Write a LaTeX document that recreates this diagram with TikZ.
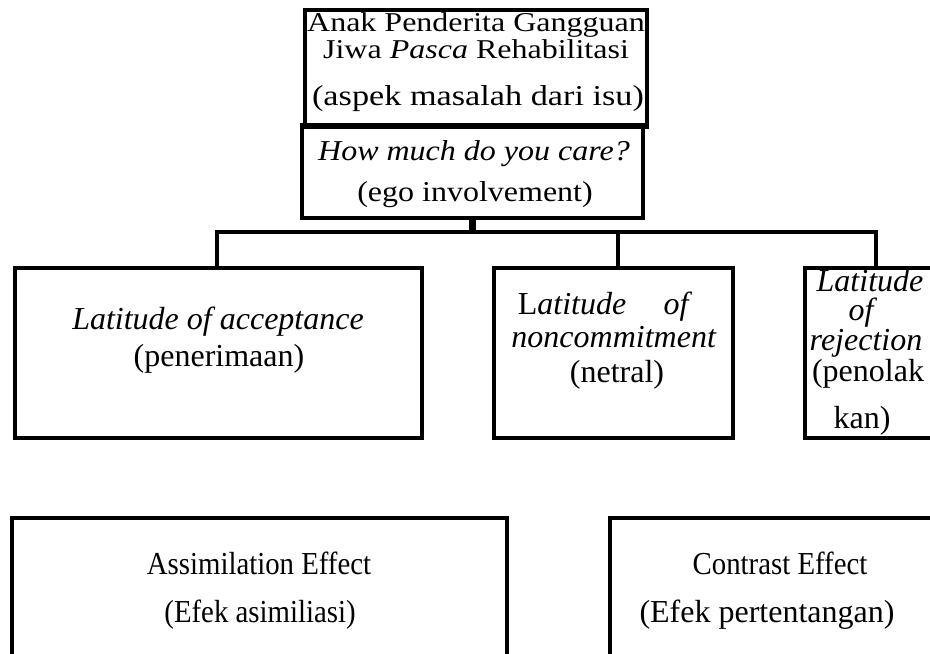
\documentclass[tikz,border=0pt]{standalone}
\usepackage{fontspec}
\setmainfont{Liberation Serif}
\newcommand{\squeezeV}[1]{\scalebox{1}[0.85]{#1}}
\newcommand{\squeezeH}[1]{\scalebox{0.9}[1]{#1}}
\begin{document}
\begin{tikzpicture}[x=0.75pt,y=-0.75pt,
  box/.style={draw=black,line width=3pt,rectangle,inner sep=0pt,outer sep=0pt},
  conn/.style={draw=black,line width=3.5pt,line join=miter},
  txt/.style={anchor=base,inner sep=0pt,font=\fontsize{24}{28}\selectfont},
]
\useasboundingbox (0,0) rectangle (930,653);
\clip (0,0) rectangle (930,653);
% texts
\node[txt] (t1) at (476,31) {\squeezeV{Anak Penderita Gangguan}};
\node[txt] (t2) at (476,58) {\squeezeV{Jiwa \textit{Pasca} Rehabilitasi}};
\node[txt] (t3) at (478,105) {\scalebox{1.07}[0.9]{(aspek masalah dari isu)}};
\node[txt] (t4) at (474,160) {\scalebox{1}[0.9]{\textit{How much do you care?}}};
\node[txt] (t5) at (475,201) {\scalebox{1}[0.9]{(ego involvement)}};
\node[txt] (a1) at (218,329) {\textit{Latitude of acceptance}};
\node[txt] (a2) at (219,366) {(penerimaan)};
\node[txt] (m1) at (605,314) {L\textit{atitude}\hspace{28pt}\textit{of}};
\node[txt] (m2) at (614,347) {\textit{noncommitment}};
\node[txt] (m3) at (617,382) {(netral)};
\node[txt] (r1) at (870,291) {\textit{Latitude}};
\node[txt] (r2) at (863,320) {\textit{of}};
\node[txt] (r3) at (866,350) {\textit{rejection}};
\node[txt] (r4) at (868,381) {(penolak};
\node[txt] (r5) at (862,428) {kan)};
\node[txt] (b1) at (259,574) {\squeezeH{Assimilation Effect}};
\node[txt] (b2) at (260,622) {\squeezeH{(Efek asimiliasi)}};
\node[txt] (c1) at (780,574) {\squeezeH{Contrast Effect}};
\node[txt] (c2) at (767,622) {(Efek pertentangan)};
% boxes
\node[box,minimum width=256.5pt,minimum height=87.75pt] (issue) at (476,68.5) {};
\node[box,minimum width=255.75pt,minimum height=69.75pt] (care) at (472.5,171.5) {};
\node[box,minimum width=305.25pt,minimum height=127.5pt] (acc) at (218.5,353) {};
\node[box,minimum width=179.25pt,minimum height=127.5pt] (mid) at (613.5,353) {};
\node[box,minimum width=106.5pt,minimum height=127.5pt] (rej) at (876,353) {};
\node[box,minimum width=371.25pt,minimum height=151.5pt] (assim) at (259.5,619) {};
\node[box,minimum width=255pt,minimum height=151.5pt] (contr) at (780,619) {};
% connectors
\coordinate (busL) at (217,232);
\coordinate (busM) at (618,232);
\coordinate (busR) at (876,232);
\draw[conn,line width=5pt] (care.south) -- (care.south |- busL);
\draw[conn] (acc.north -| busL) -- (busL) -- (busR) -- (rej.north);
\draw[conn,line width=2.5pt] (busM) -- (busM |- mid.north);
\end{tikzpicture}
\end{document}
